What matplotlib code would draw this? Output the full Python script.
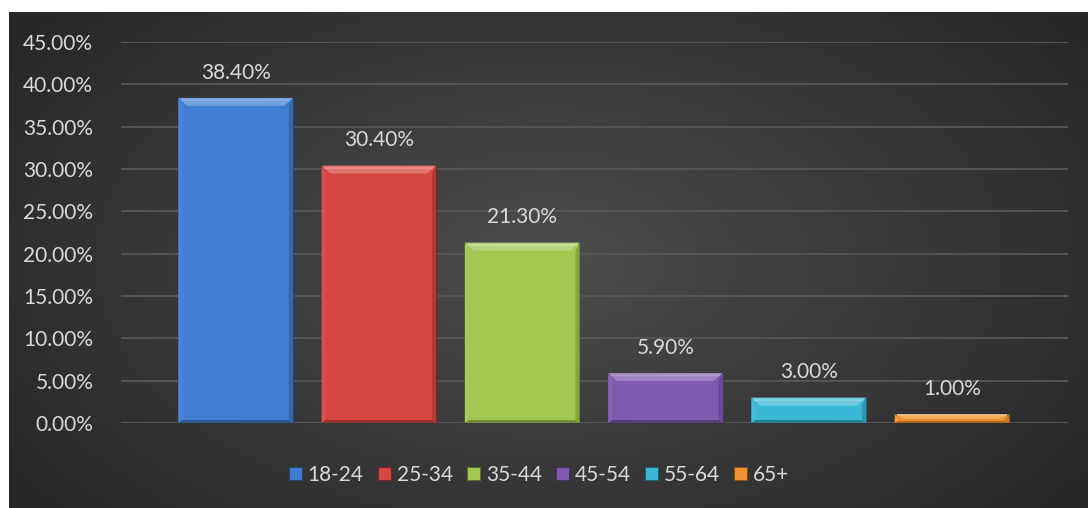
import numpy as np
import matplotlib.pyplot as plt
from matplotlib.patches import Polygon, Rectangle
from matplotlib.colors import to_rgb

# ---------------------------
# data
# ---------------------------
age_groups = ['18-24', '25-34', '35-44', '45-54', '55-64', '65+']
shares = [38.4, 30.4, 21.3, 5.9, 3.0, 1.0]          # percent
bar_colors = ['#417dd0', '#d64642', '#a3c852', '#8059b0', '#3bb8d6', '#f2922e']
y_ticks = [0, 5, 10, 15, 20, 25, 30, 35, 40, 45]

TEXT = '#d9d9d9'
FS = 15
plt.rcParams['font.family'] = ['Lato', 'DejaVu Sans']


def shade(c, f):
    """f>0 lightens towards white, f<0 darkens towards black."""
    r = np.array(to_rgb(c))
    if f >= 0:
        return tuple(r + (1 - r) * f)
    return tuple(r * (1 + f))


W, H = 1088, 508
fig = plt.figure(figsize=(W / 100, H / 100), dpi=100)
fig.patch.set_facecolor('white')

# ---------------------------
# dark radial background of the chart area
# ---------------------------
bg = fig.add_axes([9 / W, 0, 1 - 9 / W, (H - 12) / H])
bg.set_axis_off()
gx, gy = np.meshgrid(np.linspace(-1, 1, 400), np.linspace(-1, 1, 200))
dist = np.sqrt((gx * 0.95) ** 2 + (gy * 0.75) ** 2)
lum = 0.30 - 0.15 * np.clip(dist / 1.2, 0, 1)
img = np.dstack([lum, lum, lum])
bg.imshow(img, aspect='auto', extent=[0, 1, 0, 1], interpolation='bilinear')
bg.set_xlim(0, 1)
bg.set_ylim(0, 1)

# ---------------------------
# plot area
# ---------------------------
left_px, right_px = 121, 1068
bottom_px, top_px = 423, 42
ax = fig.add_axes([left_px / W, (H - bottom_px) / H,
                   (right_px - left_px) / W, (bottom_px - top_px) / H])
ax.set_facecolor('none')
ax.set_xlim(-0.80, 5.81)
ax.set_ylim(0, 45)
for s in ax.spines.values():
    s.set_visible(False)
ax.set_xticks([])
ax.set_yticks(y_ticks)
ax.set_yticklabels([f'{t:.2f}%' for t in y_ticks], color=TEXT, fontsize=FS)
ax.tick_params(axis='y', length=0, pad=20)
ax.grid(axis='y', color='#555555', lw=1.4)
ax.set_axisbelow(True)

x = np.arange(len(age_groups))
bw = 0.80
bars = ax.bar(x, shares, width=bw, color=bar_colors,
              edgecolor=[shade(c, -0.45) for c in bar_colors], lw=0.8, zorder=3)

# bevel sizes converted from pixels to data units
px_x = (right_px - left_px) / (ax.get_xlim()[1] - ax.get_xlim()[0])
px_y = (bottom_px - top_px) / 45.0
for rect, c in zip(bars, bar_colors):
    x0, y0 = rect.get_x(), rect.get_y()
    x1, y1 = x0 + rect.get_width(), y0 + rect.get_height()
    dx = 9 / px_x
    dy = min(8 / px_y, (y1 - y0) * 0.45)
    db = min(3 / px_y, (y1 - y0) * 0.25)
    dxs = 4 / px_x
    faces = [
        ([(x0, y1), (x1, y1), (x1 - dx, y1 - dy), (x0 + dx, y1 - dy)], shade(c, 0.25)),
        ([(x0, y0), (x0, y1), (x0 + dxs, y1 - dy), (x0 + dxs, y0 + db)], shade(c, 0.06)),
        ([(x1, y0), (x1, y1), (x1 - dxs, y1 - dy), (x1 - dxs, y0 + db)], shade(c, -0.18)),
        ([(x0, y0), (x1, y0), (x1 - dxs, y0 + db), (x0 + dxs, y0 + db)], shade(c, -0.30)),
    ]
    for pts, fc in faces:
        ax.add_patch(Polygon(pts, closed=True, facecolor=fc, edgecolor='none', zorder=4))
    # highlight line just under the top edge
    ax.plot([x0 + dx * 0.3, x1 - dx * 0.3], [y1 - dy * 0.25] * 2,
            color=shade(c, 0.4), lw=1.2, zorder=5, solid_capstyle='butt')

for xi, v in zip(x, shares):
    ax.annotate(f'{v:.2f}%', (xi, v), xytext=(0, 11), textcoords='offset points',
                ha='center', va='bottom', color=TEXT, fontsize=FS)

# ---------------------------
# legend
# ---------------------------
handles = [Rectangle((0, 0), 1, 1, facecolor=c, edgecolor=shade(c, -0.45), lw=0.8)
           for c in bar_colors]
leg = fig.legend(handles, age_groups, loc='center', bbox_to_anchor=(539 / W, 1 - 475 / H),
                 ncol=6, frameon=False, fontsize=FS, handlelength=0.62, handleheight=0.62,
                 handletextpad=0.28, columnspacing=0.68)
for t in leg.get_texts():
    t.set_color(TEXT)

fig.savefig('out.png', dpi=100, facecolor=fig.get_facecolor())
